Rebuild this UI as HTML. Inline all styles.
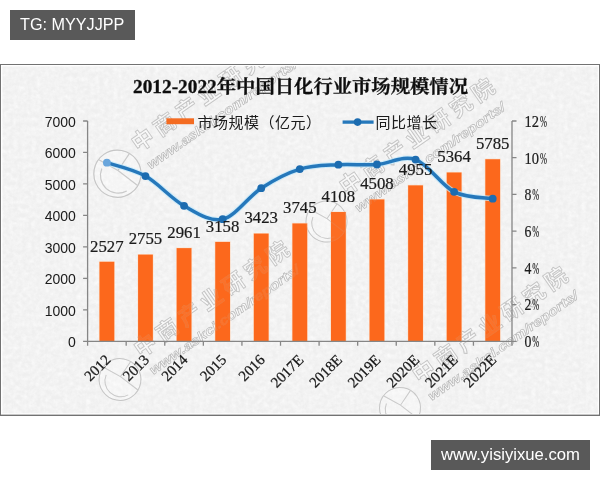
<!DOCTYPE html>
<html lang="zh"><head><meta charset="utf-8"><title>2012-2022</title>
<style>
html,body{margin:0;padding:0;background:#fff;width:600px;height:480px;overflow:hidden;font-family:"Liberation Sans",sans-serif;}
svg{display:block;position:absolute;left:0;top:0}
</style></head><body>
<svg width="600" height="480" viewBox="0 0 600 480">
<defs>
<filter id="noise" x="0" y="0" width="100%" height="100%"><feTurbulence type="fractalNoise" baseFrequency="0.22" numOctaves="3" seed="3" result="n"/><feColorMatrix in="n" type="matrix" values="0 0 0 0 1  0 0 0 0 1  0 0 0 0 1  0.9 0.9 0 0 -0.62"/></filter>
<filter id="soft" x="-5%" y="-5%" width="110%" height="110%"><feGaussianBlur stdDeviation="0.35"/></filter>
<clipPath id="clipc"><rect x="2" y="66" width="596" height="348"/></clipPath>
<filter id="gs" x="-5%" y="-20%" width="110%" height="140%"><feGaussianBlur stdDeviation="0.22"/></filter>
</defs>
<rect x="0" y="0" width="600" height="480" fill="#ffffff"/>
<rect x="0" y="64" width="600" height="352" fill="#727272"/>
<rect x="1" y="65" width="598" height="349.6" fill="#ffffff"/>
<rect x="2.4" y="66.4" width="595.4" height="347" fill="#efefef"/>
<rect x="2.4" y="66.4" width="595.4" height="347" fill="#ffffff" filter="url(#noise)" opacity="0.8"/>
<g id="chart" filter="url(#soft)">
<defs><g id="wlogo">
<circle cx="0" cy="0" r="20.5" fill="#ffffff" fill-opacity="0.25" stroke="#c6c6c6" stroke-width="1"/>
<path d="M-6.5 -19.5L2 -2L19 -8.5M2 -2L8.5 18.5M-2 17A15.5 15.5 0 0 1 -8.5 -11.5" fill="none" stroke="#cacaca" stroke-width="1"/>
</g>
<g id="wtext">
<text x="29.5" y="-8.5" font-family="'Liberation Sans', 'Noto Sans CJK SC', sans-serif" font-weight="bold" font-size="22px" fill="#ffffff" fill-opacity="0.4" stroke="#c4c4c4" stroke-width="0.85" textLength="183.5" lengthAdjust="spacing">中商产业研究院</text>
<text x="30" y="12.5" font-family="Liberation Sans, sans-serif" font-style="italic" font-weight="bold" font-size="13px" fill="#ffffff" fill-opacity="0.5" stroke="#b8b8b8" stroke-width="0.6" textLength="180" lengthAdjust="spacingAndGlyphs">www.askci.com/reports/</text>
</g></defs>
<g clip-path="url(#clipc)"><use href="#wlogo" transform="translate(117.4 173.7) rotate(-35) scale(1.15)"/><use href="#wtext" transform="translate(118.9 176.5) rotate(-35)"/><use href="#wlogo" transform="translate(326.5 221.5) rotate(-35) scale(1.0)"/><use href="#wtext" transform="translate(327 219.5) rotate(-35)"/><use href="#wlogo" transform="translate(400 408) rotate(-35) scale(1.0)"/><use href="#wtext" transform="translate(400 408) rotate(-35)"/><use href="#wlogo" transform="translate(120 379.5) rotate(-35) scale(1.02)"/><use href="#wtext" transform="translate(121.5 382) rotate(-35)"/></g>
<rect x="99.49" y="261.77" width="14.8" height="79.53" fill="#fc681b" stroke="#ffd8bd" stroke-opacity="0.7" stroke-width="1.2" paint-order="stroke"/>
<rect x="138.07" y="254.60" width="14.8" height="86.70" fill="#fc681b" stroke="#ffd8bd" stroke-opacity="0.7" stroke-width="1.2" paint-order="stroke"/>
<rect x="176.65" y="248.11" width="14.8" height="93.19" fill="#fc681b" stroke="#ffd8bd" stroke-opacity="0.7" stroke-width="1.2" paint-order="stroke"/>
<rect x="215.24" y="241.91" width="14.8" height="99.39" fill="#fc681b" stroke="#ffd8bd" stroke-opacity="0.7" stroke-width="1.2" paint-order="stroke"/>
<rect x="253.82" y="233.57" width="14.8" height="107.73" fill="#fc681b" stroke="#ffd8bd" stroke-opacity="0.7" stroke-width="1.2" paint-order="stroke"/>
<rect x="292.40" y="223.44" width="14.8" height="117.86" fill="#fc681b" stroke="#ffd8bd" stroke-opacity="0.7" stroke-width="1.2" paint-order="stroke"/>
<rect x="330.98" y="212.02" width="14.8" height="129.28" fill="#fc681b" stroke="#ffd8bd" stroke-opacity="0.7" stroke-width="1.2" paint-order="stroke"/>
<rect x="369.56" y="199.43" width="14.8" height="141.87" fill="#fc681b" stroke="#ffd8bd" stroke-opacity="0.7" stroke-width="1.2" paint-order="stroke"/>
<rect x="408.15" y="185.36" width="14.8" height="155.94" fill="#fc681b" stroke="#ffd8bd" stroke-opacity="0.7" stroke-width="1.2" paint-order="stroke"/>
<rect x="446.73" y="172.49" width="14.8" height="168.81" fill="#fc681b" stroke="#ffd8bd" stroke-opacity="0.7" stroke-width="1.2" paint-order="stroke"/>
<rect x="485.31" y="159.24" width="14.8" height="182.06" fill="#fc681b" stroke="#ffd8bd" stroke-opacity="0.7" stroke-width="1.2" paint-order="stroke"/>
<g clip-path="url(#clipc)" opacity="0.16"><use href="#wlogo" transform="translate(117.4 173.7) rotate(-35) scale(1.15)"/><use href="#wtext" transform="translate(118.9 176.5) rotate(-35)"/><use href="#wlogo" transform="translate(326.5 221.5) rotate(-35) scale(1.0)"/><use href="#wtext" transform="translate(327 219.5) rotate(-35)"/><use href="#wlogo" transform="translate(400 408) rotate(-35) scale(1.0)"/><use href="#wtext" transform="translate(400 408) rotate(-35)"/><use href="#wlogo" transform="translate(120 379.5) rotate(-35) scale(1.02)"/><use href="#wtext" transform="translate(121.5 382) rotate(-35)"/></g>
<g stroke="#868686" stroke-width="1.3" fill="none">
<path d="M87.6 121.0V341.3H512.0V121.0"/>
<path d="M83.1 341.30H87.6M83.1 309.83H87.6M83.1 278.36H87.6M83.1 246.89H87.6M83.1 215.41H87.6M83.1 183.94H87.6M83.1 152.47H87.6M83.1 121.00H87.6M512.0 341.30h4.5M512.0 304.58h4.5M512.0 267.87h4.5M512.0 231.15h4.5M512.0 194.43h4.5M512.0 157.72h4.5M512.0 121.00h4.5M87.60 341.3v4.5M126.18 341.3v4.5M164.76 341.3v4.5M203.35 341.3v4.5M241.93 341.3v4.5M280.51 341.3v4.5M319.09 341.3v4.5M357.67 341.3v4.5M396.25 341.3v4.5M434.84 341.3v4.5M473.42 341.3v4.5M512.00 341.3v4.5"/>
</g>
<g font-family="Liberation Sans, sans-serif" font-size="14px" fill="#1a1a1a" text-anchor="end">
<text x="75.8" y="347.00">0</text>
<text x="75.8" y="315.53">1000</text>
<text x="75.8" y="284.06">2000</text>
<text x="75.8" y="252.59">3000</text>
<text x="75.8" y="221.11">4000</text>
<text x="75.8" y="189.64">5000</text>
<text x="75.8" y="158.17">6000</text>
<text x="75.8" y="126.70">7000</text>
</g>
<g font-family="Liberation Serif, serif" font-size="16px" fill="#1a1a1a" stroke="#1a1a1a" stroke-width="0.2">
<text x="524.5" y="347.20" textLength="6.9" lengthAdjust="spacingAndGlyphs">0</text>
<text x="532.3" y="347.20" textLength="7" lengthAdjust="spacingAndGlyphs">%</text>
<text x="524.5" y="310.48" textLength="6.9" lengthAdjust="spacingAndGlyphs">2</text>
<text x="532.3" y="310.48" textLength="7" lengthAdjust="spacingAndGlyphs">%</text>
<text x="524.5" y="273.77" textLength="6.9" lengthAdjust="spacingAndGlyphs">4</text>
<text x="532.3" y="273.77" textLength="7" lengthAdjust="spacingAndGlyphs">%</text>
<text x="524.5" y="237.05" textLength="6.9" lengthAdjust="spacingAndGlyphs">6</text>
<text x="532.3" y="237.05" textLength="7" lengthAdjust="spacingAndGlyphs">%</text>
<text x="524.5" y="200.33" textLength="6.9" lengthAdjust="spacingAndGlyphs">8</text>
<text x="532.3" y="200.33" textLength="7" lengthAdjust="spacingAndGlyphs">%</text>
<text x="524.5" y="163.62" textLength="14.5" lengthAdjust="spacingAndGlyphs">10</text>
<text x="539.9" y="163.62" textLength="7" lengthAdjust="spacingAndGlyphs">%</text>
<text x="524.5" y="126.90" textLength="14.5" lengthAdjust="spacingAndGlyphs">12</text>
<text x="539.9" y="126.90" textLength="7" lengthAdjust="spacingAndGlyphs">%</text>
</g>
<g font-family="Liberation Serif, serif" font-size="15px" fill="#1a1a1a" stroke="#1a1a1a" stroke-width="0.25" text-anchor="end">
<text transform="translate(111.49 360.8) rotate(-45)">2012</text>
<text transform="translate(150.07 360.8) rotate(-45)">2013</text>
<text transform="translate(188.65 360.8) rotate(-45)">2014</text>
<text transform="translate(227.24 360.8) rotate(-45)">2015</text>
<text transform="translate(265.82 360.8) rotate(-45)">2016</text>
<text transform="translate(304.40 360.8) rotate(-45)">2017E</text>
<text transform="translate(342.98 360.8) rotate(-45)">2018E</text>
<text transform="translate(381.56 360.8) rotate(-45)">2019E</text>
<text transform="translate(420.15 360.8) rotate(-45)">2020E</text>
<text transform="translate(458.73 360.8) rotate(-45)">2021E</text>
<text transform="translate(497.31 360.8) rotate(-45)">2022E</text>
</g>
<path d="M106.89 162.67C113.32 164.91 132.61 168.88 145.47 176.08C158.33 183.27 171.19 198.63 184.05 205.82C196.92 213.01 209.78 222.15 222.64 219.22C235.50 216.28 248.36 196.54 261.22 188.19C274.08 179.84 286.94 173.02 299.80 169.10C312.66 165.18 325.52 165.46 338.38 164.69C351.24 163.93 364.10 165.37 376.96 164.51C389.82 163.65 402.68 154.99 415.55 159.55C428.41 164.11 441.27 185.35 454.13 191.86C466.99 198.38 486.28 197.52 492.71 198.66" fill="none" stroke="#c2e8fb" stroke-opacity="0.75" stroke-width="5.6" stroke-linecap="round" stroke-linejoin="round"/>
<path d="M106.89 162.67C113.32 164.91 132.61 168.88 145.47 176.08C158.33 183.27 171.19 198.63 184.05 205.82C196.92 213.01 209.78 222.15 222.64 219.22C235.50 216.28 248.36 196.54 261.22 188.19C274.08 179.84 286.94 173.02 299.80 169.10C312.66 165.18 325.52 165.46 338.38 164.69C351.24 163.93 364.10 165.37 376.96 164.51C389.82 163.65 402.68 154.99 415.55 159.55C428.41 164.11 441.27 185.35 454.13 191.86C466.99 198.38 486.28 197.52 492.71 198.66" fill="none" stroke="#2578bb" stroke-width="3.5" stroke-linecap="round" stroke-linejoin="round"/>
<circle cx="106.89" cy="162.67" r="3.9" fill="#6aa6dc"/>
<circle cx="145.47" cy="176.08" r="3.9" fill="#1e6cb0"/>
<circle cx="184.05" cy="205.82" r="3.9" fill="#1e6cb0"/>
<circle cx="222.64" cy="219.22" r="3.9" fill="#1e6cb0"/>
<circle cx="261.22" cy="188.19" r="3.9" fill="#1e6cb0"/>
<circle cx="299.80" cy="169.10" r="3.9" fill="#1e6cb0"/>
<circle cx="338.38" cy="164.69" r="3.9" fill="#1e6cb0"/>
<circle cx="376.96" cy="164.51" r="3.9" fill="#1e6cb0"/>
<circle cx="415.55" cy="159.55" r="3.9" fill="#1e6cb0"/>
<circle cx="454.13" cy="191.86" r="3.9" fill="#1e6cb0"/>
<circle cx="492.71" cy="198.66" r="3.9" fill="#1e6cb0"/>
<g font-family="Liberation Serif, serif" font-size="16.5px" fill="#1a1a1a" stroke="#1a1a1a" stroke-width="0.2" text-anchor="middle">
<text x="106.89" y="251.57" textLength="33.5" lengthAdjust="spacingAndGlyphs">2527</text>
<text x="145.47" y="244.40" textLength="33.5" lengthAdjust="spacingAndGlyphs">2755</text>
<text x="184.05" y="237.91" textLength="33.5" lengthAdjust="spacingAndGlyphs">2961</text>
<text x="222.64" y="231.71" textLength="33.5" lengthAdjust="spacingAndGlyphs">3158</text>
<text x="261.22" y="223.37" textLength="33.5" lengthAdjust="spacingAndGlyphs">3423</text>
<text x="299.80" y="213.24" textLength="33.5" lengthAdjust="spacingAndGlyphs">3745</text>
<text x="338.38" y="201.82" textLength="33.5" lengthAdjust="spacingAndGlyphs">4108</text>
<text x="376.96" y="189.23" textLength="33.5" lengthAdjust="spacingAndGlyphs">4508</text>
<text x="415.55" y="175.16" textLength="33.5" lengthAdjust="spacingAndGlyphs">4955</text>
<text x="454.13" y="162.29" textLength="33.5" lengthAdjust="spacingAndGlyphs">5364</text>
<text x="492.71" y="149.04" textLength="33.5" lengthAdjust="spacingAndGlyphs">5785</text>
</g>
<rect x="166.4" y="118.3" width="27.6" height="5.9" fill="#f46c22"/>
<path d="M342.6 122.1H373.6" stroke="#2578bb" stroke-width="3.3"/>
<circle cx="357.6" cy="122.1" r="3.8" fill="#1e6cb0"/>
<text x="197.5" y="127.5" font-family="'Liberation Sans', 'Noto Sans CJK SC', sans-serif" font-size="15px" fill="#1a1a1a" textLength="123.5" lengthAdjust="spacing">市场规模（亿元）</text>
<text x="375.5" y="127.5" font-family="'Liberation Sans', 'Noto Sans CJK SC', sans-serif" font-size="15px" fill="#1a1a1a" textLength="61.5" lengthAdjust="spacing">同比增长</text>
<text x="133" y="93.2" font-family="'Liberation Serif', 'Noto Serif CJK SC', serif" font-weight="bold" font-size="18.7px" fill="#111" stroke="#111" stroke-width="0.3" textLength="335" lengthAdjust="spacingAndGlyphs">2012-2022年中国日化行业市场规模情况</text>
</g>
<rect x="10" y="10" width="125" height="30" fill="#595959"/>
<text x="20" y="30.2" font-family="Liberation Sans, sans-serif" font-size="16px" fill="#ffffff" textLength="104.4" lengthAdjust="spacingAndGlyphs" filter="url(#gs)">TG: MYYJJPP</text>
<rect x="431" y="440" width="159" height="30" fill="#595959"/>
<text x="441" y="459.9" font-family="Liberation Sans, sans-serif" font-size="16.6px" fill="#ffffff" textLength="139" lengthAdjust="spacingAndGlyphs" filter="url(#gs)">www.yisiyixue.com</text>
</svg>
</body></html>
